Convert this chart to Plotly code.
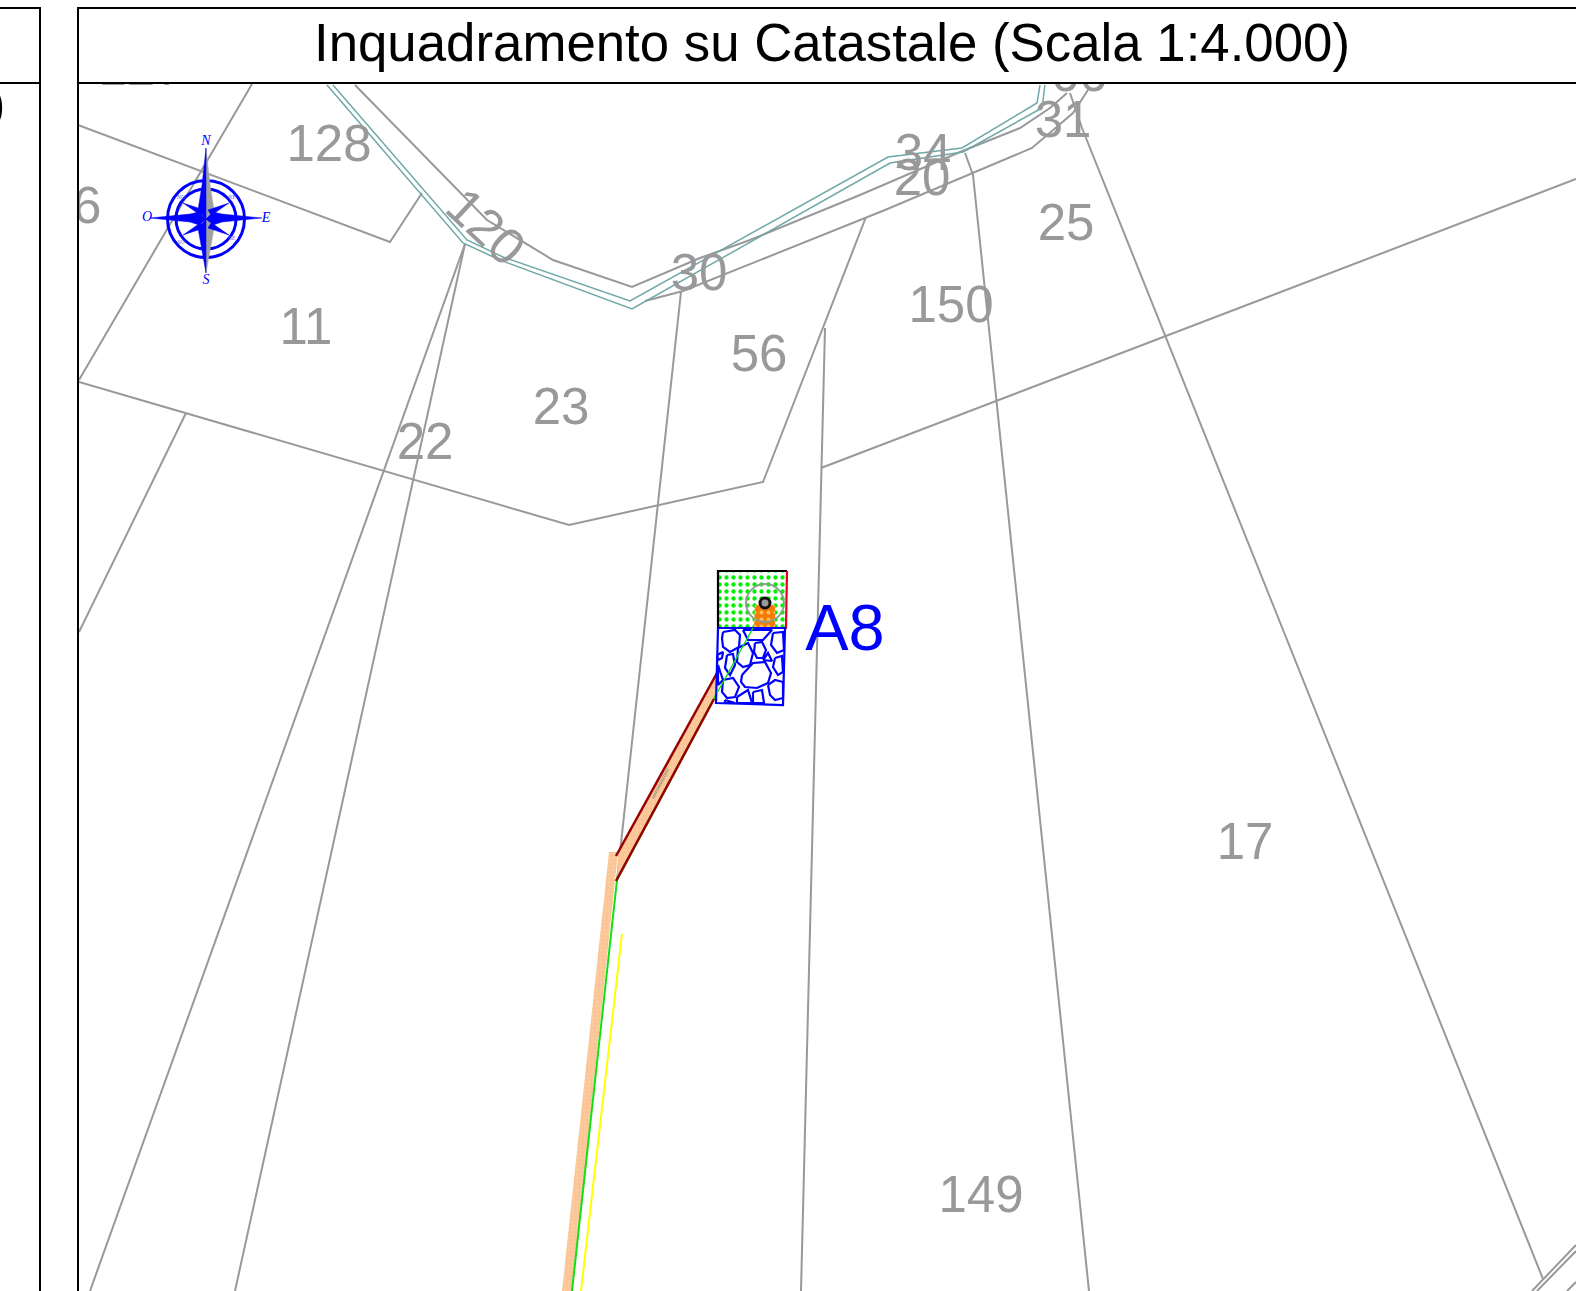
import plotly.graph_objects as go

W, H = 1576, 1291
LEFT, TOP = 79, 84

FONT = "Liberation Sans"
GREY = "#999999"
TEAL = "#6fa8a8"
BLUE = "#0000ff"
BEIGE = "#fbc596"
BROWN = "#990000"
GREEN = "#11e011"

TITLE = "Inquadramento su Catastale (Scala 1:4.000)"

parcel_lines = [
    [(78, 125), (390, 242), (422, 193)],
    [(252, 84), (79, 380)],
    [(79, 382), (569, 525), (763, 482), (866, 217)],
    [(355, 85), (487, 220), (553, 260), (632, 287), (700, 258), (750, 240), (860, 195),
     (960, 152), (1020, 128), (1050, 108), (1067, 93)],
    [(645, 301), (683, 291), (885, 210), (1032, 148), (1073, 113), (1088, 90)],
    [(681, 292), (617, 880)],
    [(825, 328), (801, 1291)],
    [(821, 468), (1576, 179)],
    [(965, 153), (973, 175), (1089, 1291)],
    [(1070, 93), (1082, 128), (1543, 1279)],
    [(465, 244), (90, 1291)],
    [(465, 244), (235, 1291)],
    [(186, 413), (79, 632)],
    [(1532, 1291), (1576, 1245)],
    [(1537, 1291), (1576, 1251)],
    [(1567, 1291), (1576, 1282)],
]

road_upper = [(333, 85), (467, 240), (503, 257), (630, 301), (888, 157), (962, 148), (1037, 103), (1040, 85)]
road_lower = [(327, 85), (463, 243), (500, 260), (632, 309), (890, 163), (963, 152), (1042, 108), (1045, 85)]

beige_main = [(609, 852), (618, 852), (572, 1291), (562, 1291)]
beige_access = [(618, 853), (717, 673), (717, 694), (617, 880)]
brown_upper = [(616, 856), (717, 673)]
brown_lower = [(616, 881), (714, 699)]
green_line = [(572, 1291), (617, 880), (717, 693), (753, 628)]
yellow_line = [(622, 934), (581, 1291)]
road_mark = [(653, 798), (668, 769)]

pad_box = [(718, 571), (787, 571), (786, 628), (718, 628), (718, 571)]
pad_black = [(718, 628), (718, 571), (787, 571)]
pad_red = [(787, 571), (786, 628), (718, 628)]
orange_box = [(755, 605), (775, 605), (775, 628), (754, 628), (755, 605)]
stones_box = [(718, 628), (785, 628), (783, 705), (716, 703), (718, 628)]
well_x, well_y = [765], [603]

stones = [
    [(723, 632), (735, 630), (740, 635), (739, 647), (730, 652), (723, 647), (722, 638)],
    [(743, 630), (772, 630), (763, 640), (748, 640)],
    [(773, 633), (783, 632), (784, 650), (777, 653), (771, 645)],
    [(738, 648), (748, 643), (753, 653), (750, 665), (743, 667), (737, 662)],
    [(755, 643), (762, 642), (766, 650), (763, 658), (757, 658), (754, 652)],
    [(763, 660), (768, 653), (772, 661)],
    [(727, 655), (733, 654), (735, 665), (730, 675), (725, 668)],
    [(717, 655), (723, 652), (722, 658), (718, 660)],
    [(775, 658), (782, 656), (783, 672), (778, 675), (773, 667)],
    [(742, 675), (753, 663), (765, 662), (771, 673), (768, 683), (757, 688), (745, 687), (741, 682)],
    [(718, 665), (723, 680), (718, 685)],
    [(723, 680), (733, 678), (739, 687), (735, 697), (727, 698), (722, 692)],
    [(768, 685), (775, 680), (783, 682), (783, 698), (775, 700), (770, 695)],
    [(737, 697), (748, 690), (752, 703), (737, 703)],
    [(753, 692), (762, 690), (764, 703), (753, 703)],
    [(725, 700), (735, 703), (725, 703)],
]

compass_c = (206, 219)
compass_blue = [
    [(206, 148), (202, 185), (198, 210), (206, 219)],
    [(150, 218), (190, 214), (199, 212), (206, 219), (199, 225), (190, 222)],
    [(262, 218), (222, 214), (213, 212), (206, 219), (213, 225), (222, 222)],
    [(206, 273), (202, 250), (198, 228), (206, 219)],
    [(229, 203), (208, 210), (213, 218), (206, 219)],
    [(183, 203), (204, 210), (199, 218), (206, 219)],
    [(229, 235), (208, 228), (213, 220), (206, 219)],
    [(183, 235), (204, 228), (199, 220), (206, 219)],
]
compass_grey = [
    [(206, 148), (210, 185), (214, 210), (206, 219)],
    [(206, 273), (210, 250), (214, 228), (206, 219)],
]
compass_letters = ["N", "O", "E", "S"]
compass_letter_x = [206, 147, 266, 206]
compass_letter_y = [141, 217, 218, 280]
ring_letters = ["NO", "NE", "SO", "SE"]
ring_letter_x = [181, 232, 181, 232]
ring_letter_y = [197, 197, 242, 238]
ring_sizes = [77, 60]

labels = ["128", "16", "11", "22", "23", "30", "34", "20", "31", "25", "150", "56", "17", "149", "127", "66"]
label_x = [329, 73, 306, 425, 561, 699, 923, 922, 1063, 1066, 951, 759, 1245, 981, 141, 1079]
label_y = [148, 210, 331, 446, 411, 277, 157, 182, 124, 227, 309, 358, 846, 1199, 72, 78]

frame_lines = [
    [(0, 8), (40, 8), (40, 1291)],
    [(0, 83), (40, 83)],
    [(78, 1291), (78, 8), (1576, 8)],
    [(78, 83), (1576, 83)],
]

fig = go.Figure()


def poly(pts, color, width, xa="x", ya="y", fill=None, dash=None):
    fig.add_trace(go.Scatter(
        x=[p[0] for p in pts], y=[p[1] for p in pts], mode="lines",
        line=dict(color=color, width=width, dash=dash), xaxis=xa, yaxis=ya,
        fill="toself" if fill else "none", fillcolor=fill, hoverinfo="skip"))


def patterned(pts, bg, fg, size, solidity):
    fig.add_trace(go.Scatter(
        x=[p[0] for p in pts], y=[p[1] for p in pts], mode="lines",
        line=dict(width=0, color="rgba(0,0,0,0)"), fill="toself", fillcolor=bg,
        fillpattern=dict(shape=".", fgcolor=fg, fgopacity=1, bgcolor=bg, size=size, solidity=solidity),
        hoverinfo="skip"))


for pts in parcel_lines:
    poly(pts, GREY, 2)
poly(road_upper, TEAL, 1.5)
poly(road_lower, TEAL, 1.5)

patterned(beige_main, BEIGE, "#fdd5b0", 4, 0.15)
patterned(beige_access, BEIGE, "#fdd5b0", 4, 0.15)
poly(green_line, GREEN, 2)
poly(brown_upper, BROWN, 2.5)
poly(brown_lower, BROWN, 2.5)
poly(yellow_line, "#ffff00", 2)
poly(road_mark, "#8f8f80", 3, dash="1px,1px")

patterned(pad_box, "white", "#00f000", 7, 0.3)
patterned(orange_box, "#f57c00", "#f9c060", 7, 0.25)
poly(pad_black, "black", 2.2)
poly(pad_red, "#e8001c", 2.2)
poly(stones_box, BLUE, 2.2, fill="white")
for s in stones:
    poly(s + s[:1], BLUE, 2.2)
poly(green_line[2:], GREEN, 1.4)
fig.add_trace(go.Scatter(
    x=well_x, y=well_y, mode="markers",
    marker=dict(size=38, color="rgba(0,0,0,0)", line=dict(color="#8a9e8a", width=1.8)), hoverinfo="skip"))
fig.add_trace(go.Scatter(
    x=well_x, y=well_y, mode="markers",
    marker=dict(size=10, color="#9a9a9a", symbol="circle", line=dict(color="#111111", width=3)), hoverinfo="skip"))

fig.add_trace(go.Scatter(
    x=[compass_c[0]], y=[compass_c[1]], mode="markers",
    marker=dict(size=ring_sizes[0], color="rgba(0,0,0,0)", line=dict(color=BLUE, width=3)), hoverinfo="skip"))
fig.add_trace(go.Scatter(
    x=[compass_c[0]], y=[compass_c[1]], mode="markers",
    marker=dict(size=ring_sizes[1], color="rgba(0,0,0,0)", line=dict(color=BLUE, width=3)), hoverinfo="skip"))
for p in compass_grey:
    poly(p + p[:1], "#a0a0a0", 0.5, fill="#a0a0a0")
for p in compass_blue:
    poly(p + p[:1], BLUE, 0.5, fill=BLUE)
fig.add_trace(go.Scatter(
    x=compass_letter_x, y=compass_letter_y, mode="text", text=compass_letters,
    textfont=dict(family="Liberation Serif", size=14, color=BLUE, style="italic"),
    hoverinfo="skip"))
fig.add_trace(go.Scatter(
    x=ring_letter_x, y=ring_letter_y, mode="text", text=ring_letters,
    textfont=dict(family="Liberation Serif", size=6, color="#6666ff", style="italic"),
    hoverinfo="skip"))

fig.add_trace(go.Scatter(
    x=label_x, y=label_y, mode="text", text=labels,
    textfont=dict(family=FONT, size=51, color=GREY), hoverinfo="skip", cliponaxis=True))
fig.add_trace(go.Scatter(
    x=[845], y=[634], mode="text", text=["A8"],
    textfont=dict(family=FONT, size=65, color=BLUE), hoverinfo="skip"))

for pts in frame_lines:
    poly(pts, "black", 2, xa="x2", ya="y2")
fig.add_trace(go.Scatter(
    x=[832], y=[48], mode="text", text=[TITLE], xaxis="x2", yaxis="y2",
    textfont=dict(family=FONT, size=52.8, color="black"), hoverinfo="skip"))
fig.add_trace(go.Scatter(
    x=[4], y=[113], mode="text", text=["0"], textposition="middle left", xaxis="x2", yaxis="y2",
    textfont=dict(family=FONT, size=51, color="black"), hoverinfo="skip"))

fig.add_annotation(
    x=486, y=226, xref="x", yref="y", text="120", showarrow=False, textangle=43,
    font=dict(family=FONT, size=51, color=GREY))

axis = dict(visible=False, fixedrange=True, showgrid=False, zeroline=False)
fig.update_layout(
    width=W, height=H, margin=dict(l=0, r=0, t=0, b=0),
    paper_bgcolor="white", plot_bgcolor="rgba(0,0,0,0)", showlegend=False,
    xaxis=dict(axis, domain=[LEFT / W, 1], range=[LEFT, W]),
    yaxis=dict(axis, domain=[0, 1 - TOP / H], range=[H, TOP]),
    xaxis2=dict(axis, domain=[0, 1], range=[0, W], anchor="y2"),
    yaxis2=dict(axis, domain=[0, 1], range=[H, 0], anchor="x2"),
)
fig.write_html("out.html", config=dict(displayModeBar=False),
               post_script="document.body.style.margin='0';document.body.style.overflow='hidden';")
